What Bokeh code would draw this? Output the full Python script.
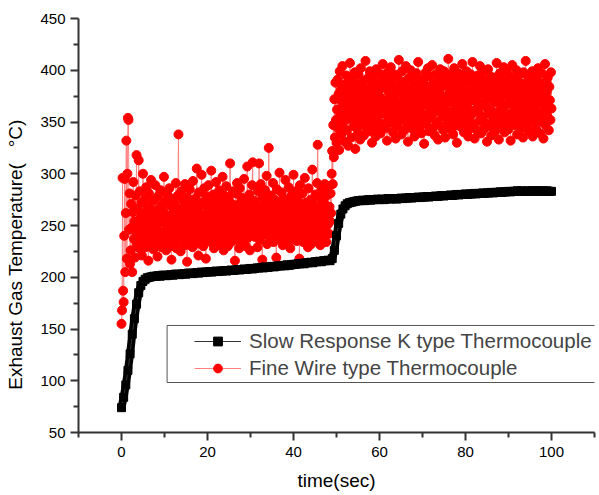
import numpy as np
from bokeh.plotting import figure
from bokeh.models import Range1d, FixedTicker, Legend, LegendItem, BoxAnnotation
from bokeh.embed import file_html
from bokeh.resources import INLINE

# ---------------- data ----------------
slow_dt = 0.5     # s between samples, slow response K type
fine_dt = 0.125   # s between samples, fine wire

slow_k = [
    74, 84, 96, 110, 126, 145, 160, 174, 185, 192, 196, 198, 199.5,
    200, 200.5, 201, 201, 201.5, 201, 202, 202, 201.5, 202,
    202.5, 202, 203, 203, 202.5, 203, 203.5, 203, 204, 204,
    203.5, 204, 204.5, 204, 205, 204.5, 205, 205,
    205.5, 205, 205.5, 206, 205.5, 206, 206, 206.5, 206, 206.5,
    207, 206.5, 207, 207.5, 207, 207.5, 208, 207.5, 208, 208.5,
    208, 208.5, 209, 209, 209.5, 209, 210, 209.5, 210, 210.5,
    210, 210.5, 211, 211, 211.5, 211, 212, 211.5, 212, 212.5,
    212.5, 213, 213, 213.5, 213, 214, 214, 214.5, 214, 215, 215, 215.5, 215, 216, 216, 216.5, 216,
    218, 226, 240, 252, 261, 266, 269, 271, 272, 272.5, 273, 273.5, 274,
    274, 274.5, 274, 274.5, 275, 274.5, 275, 275, 275.5, 275,
    275.5, 275, 275.5, 276, 275.5, 276, 276, 275.5, 276, 276.5,
    276, 276.5, 276.5, 277, 276.5, 277, 277, 277.5, 277, 277.5,
    277.5, 278, 277.5, 278, 278, 278.5, 278, 278.5, 279, 278.5,
    279, 279, 279.5, 279, 279.5, 280, 279.5, 280, 280, 280.5,
    280, 280.5, 280.5, 281, 280.5, 281, 281, 281.5, 281, 281.5,
    281.5, 282, 281.5, 282, 282, 282.5, 282, 282.5, 282.5, 283,
    282.5, 283, 283, 283.5, 283, 283.5, 283, 283, 283.5, 283,
    283.5, 283, 283.5, 283.5, 283, 283.5, 283, 283.5, 283, 283,
]

fine_wire = [
    155, 168, 296, 187, 176, 240, 295, 205, 262, 332, 218, 300, 354, 352, 246, 281, 213,
    226, 271, 248, 205, 263, 292, 237, 254, 219, 279,
    244, 318, 232, 266, 251, 313, 228, 283, 240, 258,
    272, 221, 249, 300, 236, 262, 245, 276, 229, 287,
    253, 238, 268, 216, 281, 247, 259, 233, 294, 242,
    265, 250, 227, 274, 239, 256, 289, 231, 261, 246,
    220, 278, 252, 235, 267, 243, 284, 229, 257, 270,
    241, 263, 297, 234, 255, 273, 226, 248, 280, 237,
    259, 244, 286, 230, 269, 252, 217, 276, 240, 262,
    249, 233, 271, 256, 291, 228, 264, 245, 279, 338,
    238, 266, 251, 225, 283, 247, 260, 234, 274, 255,
    242, 290, 231, 268, 253, 215, 277, 246, 262, 236,
    285, 250, 239, 271, 257, 229, 293, 244, 265, 248,
    232, 276, 254, 305, 240, 263, 221, 282, 251, 269,
    237, 258, 299, 243, 272, 230, 260, 286, 245, 254,
    218, 278, 250, 267, 236, 289, 255, 241, 274, 261,
    303, 233, 264, 248, 280, 228, 257, 270, 239, 292,
    252, 245, 275, 235, 262, 284, 231, 266, 249, 273,
    240, 297, 256, 226, 279, 253, 268, 237, 288, 247,
    263, 230, 276, 251, 242, 310, 258, 234, 271, 255,
    283, 239, 265, 249, 216, 281, 260, 245, 291, 236,
    270, 252, 228, 286, 244, 263, 277, 233, 256, 268,
    241, 295, 250, 262, 230, 275, 254, 307, 238, 266,
    248, 280, 226, 259, 272, 243, 289, 311, 264, 253,
    274, 239, 262, 257, 246, 270, 229, 283, 251, 310,
    236, 267, 290, 244, 258, 217, 277, 255, 269, 241,
    284, 250, 263, 298, 232, 273, 256, 325, 247, 261,
    238, 279, 252, 266, 243, 291, 234, 260, 275, 249,
    268, 219, 285, 257, 240, 271, 253, 301, 237, 264,
    250, 282, 245, 231, 276, 259, 266, 242, 294, 255,
    233, 270, 261, 248, 287, 239, 274, 228, 258, 279,
    246, 263, 237, 299, 254, 269, 241, 283, 252, 235,
    276, 258, 244, 271, 218, 289, 262, 250, 267, 240,
    281, 234, 260, 255, 296, 245, 272, 238, 264, 251,
    229, 286, 257, 268, 243, 275, 232, 261, 304, 248,
    270, 239, 263, 252, 280, 236, 266, 291, 328, 258,
    243, 277, 255, 231, 269, 284, 249, 262, 238, 273,
    256, 290, 247, 266, 234, 279, 260, 251, 288, 242,
    268, 254,
    281, 262, 300, 322, 290, 347, 316, 372, 335, 388, 352, 330,
    362, 391, 344, 377, 323, 399, 356, 381, 338, 370,
    404, 349, 366, 386, 331, 374, 358, 395, 342, 380,
    368, 327, 389, 353, 407, 361, 376, 335, 393, 357,
    383, 346, 371, 398, 324, 364, 387, 351, 375, 340,
    396, 359, 379, 333, 402, 367, 348, 385, 362, 390,
    337, 373, 355, 409, 345, 382, 365, 392, 350, 376,
    361, 399, 341, 384, 369, 330, 394, 357, 378, 347,
    388, 363, 336, 401, 372, 352, 380, 343, 397, 366,
    374, 339, 390, 358, 383, 406, 348, 371, 360, 395,
    344, 386, 367, 332, 398, 355, 379, 391, 353, 373,
    403, 364, 349, 385, 340, 376, 359, 396, 371, 334,
    381, 357, 393, 346, 368, 410, 352, 387, 363, 378,
    338, 399, 370, 355, 389, 342, 375, 361, 404, 350,
    384, 366, 331, 392, 358, 377, 347, 400, 369, 354,
    395, 343, 380, 362, 336, 388, 373, 351, 397, 365,
    356, 408, 374, 345, 383, 360, 391, 339, 379, 368,
    390, 352, 329, 386, 367, 398, 348, 376, 357, 402,
    371, 341, 394, 363, 382, 354, 370, 405, 344, 387,
    359, 378, 337, 396, 366, 350, 384, 372, 333, 393,
    380, 361, 401, 346, 375, 389, 355, 368, 342, 399,
    364, 335, 385, 358, 392, 372, 349, 411, 377, 353,
    396, 369, 343, 381, 360, 387, 338, 374, 402, 356,
    347, 390, 367, 330, 384, 363, 397, 352, 378, 371,
    388, 345, 375, 406, 358, 382, 340, 393, 365, 350,
    373, 399, 354, 368, 336, 389, 361, 379, 344, 396,
    357, 383, 408, 348, 371, 392, 334, 376, 362, 387,
    342, 370, 395, 359, 381, 351, 404, 366, 339, 384,
    398, 355, 377, 343, 390, 368, 349, 386, 372, 331,
    363, 401, 346, 382, 358, 394, 375, 337, 388, 360,
    379, 352, 393, 369, 341, 385, 357, 407, 348, 374,
    389, 333, 371, 397, 362, 380, 345, 391, 366, 354,
    403, 365, 340, 383, 356, 376, 399, 350, 387, 343,
    370, 394, 358, 332, 381, 367, 405, 353, 378, 392,
    347, 385, 373, 361, 400, 338, 390, 364, 355, 382,
    396, 351, 378, 344, 387, 369, 335, 398, 359, 376,
    362, 409, 346, 384, 371, 353, 393, 341, 380, 367,
    386, 357, 374, 399, 336, 383, 364, 349, 395, 370,
    343, 391, 360, 377, 402, 355, 372, 388, 339, 381,
    368, 397, 350, 385, 334, 375, 361, 406, 347, 389,
    379, 356, 393, 366, 342, 384, 371, 352, 398, 363,
]

series_names = ["Slow Response K type Thermocouple", "Fine Wire type Thermocouple"]
x_major = [0, 20, 40, 60, 80, 100]
x_minor = [-10, 10, 30, 50, 70, 90, 110]
y_major = [50, 100, 150, 200, 250, 300, 350, 400, 450]
y_minor = [75, 125, 175, 225, 275, 325, 375, 425]

t_slow = np.arange(len(slow_k)) * slow_dt
t_fine = np.arange(len(fine_wire)) * fine_dt

FONT = "Liberation Sans"
NB = "\u00a0"

p = figure(width=599, height=495,
           min_border_left=78, min_border_right=5, min_border_top=18, min_border_bottom=63,
           x_range=Range1d(-10, 110), y_range=Range1d(50, 450),
           output_backend="svg", toolbar_location=None)
p.outline_line_color = None
p.grid.visible = False
p.background_fill_color = "white"
p.border_fill_color = "white"

# fine wire (red) first, slow K on top
fl = p.line(t_fine, fine_wire, line_color="#ff8080", line_width=1)
fs = p.scatter(t_fine, fine_wire, marker="circle", size=9, fill_color="red", line_color="red")
p.line(t_slow, slow_k, line_color="black", line_width=8, line_join="round")
sl = p.line(t_slow, slow_k, line_color="#333333", line_width=1)
ss = p.scatter(t_slow, slow_k, marker="square", size=8, fill_color="black", line_color="black")

for ax in (p.xaxis[0], p.yaxis[0]):
    ax.axis_line_color = "#333333"
    ax.axis_line_width = 2
    ax.major_tick_line_color = "#333333"
    ax.minor_tick_line_color = "#333333"
    ax.major_tick_line_width = 2
    ax.minor_tick_line_width = 2
    ax.major_tick_in = 0
    ax.major_tick_out = 8
    ax.minor_tick_in = 0
    ax.minor_tick_out = 5
    ax.major_label_text_font = FONT
    ax.major_label_text_font_size = "15px"
    ax.major_label_text_color = "black"
    ax.axis_label_text_font = FONT
    ax.axis_label_text_font_size = "19px"
    ax.axis_label_text_font_style = "normal"
    ax.axis_label_text_color = "black"

p.xaxis[0].ticker = FixedTicker(ticks=x_major, minor_ticks=x_minor)
p.yaxis[0].ticker = FixedTicker(ticks=y_major, minor_ticks=y_minor)
p.xaxis[0].axis_label = "time(sec)"
p.yaxis[0].axis_label = "Exhaust Gas Temperature(" + NB * 3 + "\u00b0C)" + NB * 11
p.xaxis[0].major_label_standoff = 6
p.yaxis[0].major_label_standoff = 5
p.xaxis[0].axis_label_standoff = 10
p.yaxis[0].axis_label_standoff = 11

box = BoxAnnotation(left=10.6, right=110.6, bottom=98.3, top=153.4,
                    fill_color="white", fill_alpha=1.0,
                    line_color="#555555", line_width=1, line_alpha=1.0)
p.add_layout(box)

legend = Legend(items=[LegendItem(label=series_names[0], renderers=[sl, ss]),
                       LegendItem(label=series_names[1], renderers=[fl, fs])],
                location=(116, 52), padding=4, margin=0, spacing=3,
                glyph_width=47, glyph_height=22, label_height=22, label_standoff=8,
                label_text_font=FONT, label_text_font_size="20.5px",
                border_line_color=None, background_fill_alpha=0.0)
p.add_layout(legend)

open("out.html", "w").write(file_html(p, INLINE))
